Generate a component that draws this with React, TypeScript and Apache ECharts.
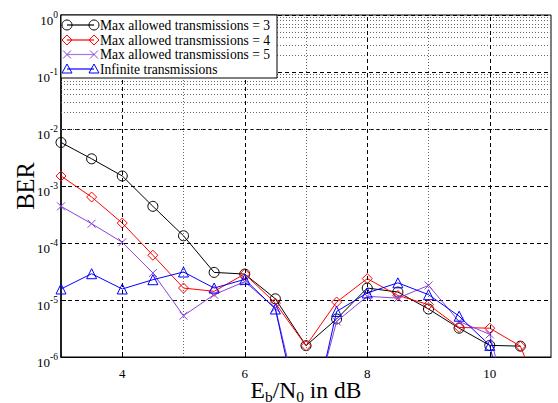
import React, { useEffect, useRef } from "react";
import * as echarts from "echarts";

const xValues = [3, 3.5, 4, 4.5, 5, 5.5, 6, 6.5, 7, 7.5, 8, 8.5, 9, 9.5, 10, 10.5, 11];
const ber3 = [5.8e-3, 3.0e-3, 1.5e-3, 4.4e-4, 1.34e-4, 3.05e-5, 2.85e-5, 1.05e-5, 1.58e-6, 4.65e-6, 1.62e-5, 1.38e-5, 6.95e-6, 3.2e-6, 1.6e-6, 1.55e-6, null];
const ber4 = [1.5e-3, 6.4e-4, 2.24e-4, 6.1e-5, 1.62e-5, 1.42e-5, 2.86e-5, 8.8e-6, 1.58e-6, 9.2e-6, 2.37e-5, 1.2e-5, 8.3e-6, 3.3e-6, 3.2e-6, 1.55e-6, 7e-8];
const ber5 = [4.4e-4, 2.18e-4, 1.03e-4, 2.98e-5, 5.3e-6, 1.24e-5, 2.1e-5, 7.2e-6, 4e-8, 4.2e-6, 1.16e-5, 1.08e-5, 1.8e-5, 4.2e-6, 2.5e-6, 2e-8, null];
const berInf = [1.56e-5, 2.89e-5, 1.56e-5, 2.27e-5, 3.1e-5, 1.62e-5, 2.3e-5, 6.95e-6, 2.5e-8, 6.3e-6, 1.33e-5, 2.0e-5, 1.24e-5, 5.2e-6, 1.6e-6, 8e-9, null];

const seriesNames = [
  "Max allowed transmissions = 3",
  "Max allowed transmissions = 4",
  "Max allowed transmissions = 5",
  "Infinite transmissions",
];
const seriesColors = ["#000000", "#ff0000", "#8844dd", "#0000ff"];
const legendLineColors = ["#000000", "#ff0000", "#a57ae6", "#0000ff"];
const xLabelTicks = [4, 6, 8, 10];
const xMinorGrid = [5, 7, 9];
const decades = [-6, -5, -4, -3, -2, -1];
const mantissas = [2, 3, 4, 5, 6, 7, 8, 9];

const FONT = "Liberation Serif";

function pairs(ys: (number | null)[]) {
  return xValues.map((x, i) => [x, ys[i] == null ? null : ys[i]]);
}

const xSymbol = "path://M0,0L10,10M10,0L0,10";

function legendGraphic() {
  const left = 61;
  const top = 15;
  const rows = [25, 40, 54.5, 69];
  const x1 = 67;
  const x2 = 94;
  const Z = 100;
  const children: any[] = [
    {
      type: "rect",
      z: Z,
      shape: { x: left, y: top, width: 216, height: 63 },
      style: { fill: "#fff", stroke: "#000", lineWidth: 1 },
    },
  ];
  const markers = (i: number, cx: number, cy: number) => {
    const c = seriesColors[i];
    const st = { fill: "none", stroke: c, lineWidth: 1 };
    if (i === 0) return [{ type: "circle", z: Z + 2, shape: { cx, cy, r: 5 }, style: st }];
    if (i === 1)
      return [{ type: "polygon", z: Z + 2, shape: { points: [[cx - 5, cy], [cx, cy - 5], [cx + 5, cy], [cx, cy + 5]] }, style: st }];
    if (i === 2)
      return [
        { type: "line", z: Z + 2, shape: { x1: cx - 4, y1: cy - 4, x2: cx + 4, y2: cy + 4 }, style: st },
        { type: "line", z: Z + 2, shape: { x1: cx + 4, y1: cy - 4, x2: cx - 4, y2: cy + 4 }, style: st },
      ];
    return [{ type: "polygon", z: Z + 2, shape: { points: [[cx - 5, cy + 4], [cx, cy - 5], [cx + 5, cy + 4]] }, style: st }];
  };
  seriesNames.forEach((name, i) => {
    const cy = rows[i];
    children.push({
      type: "line",
      z: Z + 1,
      shape: { x1, y1: cy, x2, y2: cy },
      style: { stroke: legendLineColors[i], lineWidth: 1.2 },
    });
    children.push(...markers(i, x1, cy));
    children.push(...markers(i, x2, cy));
    children.push({
      type: "text",
      z: Z + 3,
      x: 100,
      y: cy,
      style: { text: name, fill: "#000", fontFamily: FONT, fontSize: 13.6, verticalAlign: "middle", align: "left" },
    });
  });
  return children;
}

export default function App() {
  const ref = useRef<HTMLDivElement>(null);
  useEffect(() => {
    if (!ref.current) return;
    const chart = echarts.init(ref.current, null, { renderer: "svg" });
    const minorY: any[] = [];
    decades.forEach((d) => mantissas.forEach((m) => minorY.push({ yAxis: m * Math.pow(10, d) })));
    const dotted = { type: [1, 2], color: "#666", width: 1 };
    const dashed = { type: [4, 3], color: "#000", width: 1 };
    const symbols = ["circle", "diamond", xSymbol, "triangle"];
    const sizes = [10, 10, 8, 10];
    const option: any = {
      animation: false,
      backgroundColor: "#fff",
      grid: {
        left: 61,
        right: 7,
        top: 15,
        bottom: 46,
        containLabel: false,
        outerBoundsMode: "none",
        show: true,
        borderColor: "#000",
        borderWidth: 1,
        backgroundColor: "transparent",
      },
      xAxis: {
        type: "value",
        min: 3,
        max: 11,
        interval: 1,
        name: "{n|E}{s|b}{n|/N}{s|0}{n| in dB}",
        nameLocation: "middle",
        nameGap: 19,
        nameMoveOverlap: false,
        nameTextStyle: {
          rich: {
            n: { fontFamily: FONT, fontSize: 23.5, color: "#000", lineHeight: 28 },
            s: { fontFamily: FONT, fontSize: 15.5, color: "#000", lineHeight: 13, verticalAlign: "bottom" },
          },
        },
        axisLine: { show: true, lineStyle: { color: "#000", width: 1.2 } },
        axisTick: { show: true, inside: true, length: 5, customValues: xLabelTicks, lineStyle: { color: "#000" } },
        axisLabel: {
          customValues: xLabelTicks,
          formatter: (v: number) => (xLabelTicks.indexOf(v) >= 0 ? String(v) : ""),
          fontFamily: FONT,
          fontSize: 13,
          color: "#000",
          margin: 10,
        },
        splitLine: { show: false },
      },
      yAxis: {
        type: "log",
        logBase: 10,
        min: 1e-6,
        max: 1,
        splitNumber: 6,
        name: "BER",
        nameLocation: "middle",
        nameGap: 23,
        nameMoveOverlap: false,
        nameTextStyle: { fontFamily: FONT, fontSize: 24.5, color: "#000" },
        axisLine: { show: true, lineStyle: { color: "#000", width: 1.5 } },
        axisTick: { show: true, inside: true, length: 5, lineStyle: { color: "#000" } },
        axisLabel: {
          fontFamily: FONT,
          color: "#000",
          margin: 3,
          padding: [10, 0, 0, 0],
          formatter: (v: number) => `{b|10}{e|${Math.round(Math.log10(v))}}`,
          rich: {
            b: { fontFamily: FONT, fontSize: 13, color: "#000", lineHeight: 20 },
            e: { fontFamily: FONT, fontSize: 9.5, color: "#000", lineHeight: 10, verticalAlign: "top" },
          },
        },
        splitLine: { show: true, lineStyle: dashed },
      },
      graphic: legendGraphic(),
      series: [
        {
          name: "grid",
          type: "line",
          data: [],
          silent: true,
          z: 1,
          markLine: {
            silent: true,
            symbol: ["none", "none"],
            label: { show: false },
            animation: false,
            data: [
              ...minorY.map((d) => ({ ...d, lineStyle: dotted })),
              ...xMinorGrid.map((v) => ({ xAxis: v, lineStyle: dotted })),
              ...xLabelTicks.map((v) => ({ xAxis: v, lineStyle: dashed })),
            ],
          },
        },
        ...[ber3, ber4, ber5, berInf].map((d, i) => ({
          name: seriesNames[i],
          type: "line",
          data: pairs(d),
          z: 3 + i,
          symbol: symbols[i],
          symbolSize: sizes[i],
          showAllSymbol: true,
          connectNulls: false,
          clip: true,
          lineStyle: { color: seriesColors[i], width: 1 },
          itemStyle: { color: "transparent", borderColor: seriesColors[i], borderWidth: 1 },
        })),
      ],
    };
    chart.setOption(option);
    return () => chart.dispose();
  }, []);
  return <div ref={ref} style={{ width: 558, height: 403, position: "absolute", left: 0, top: 0 }} />;
}
